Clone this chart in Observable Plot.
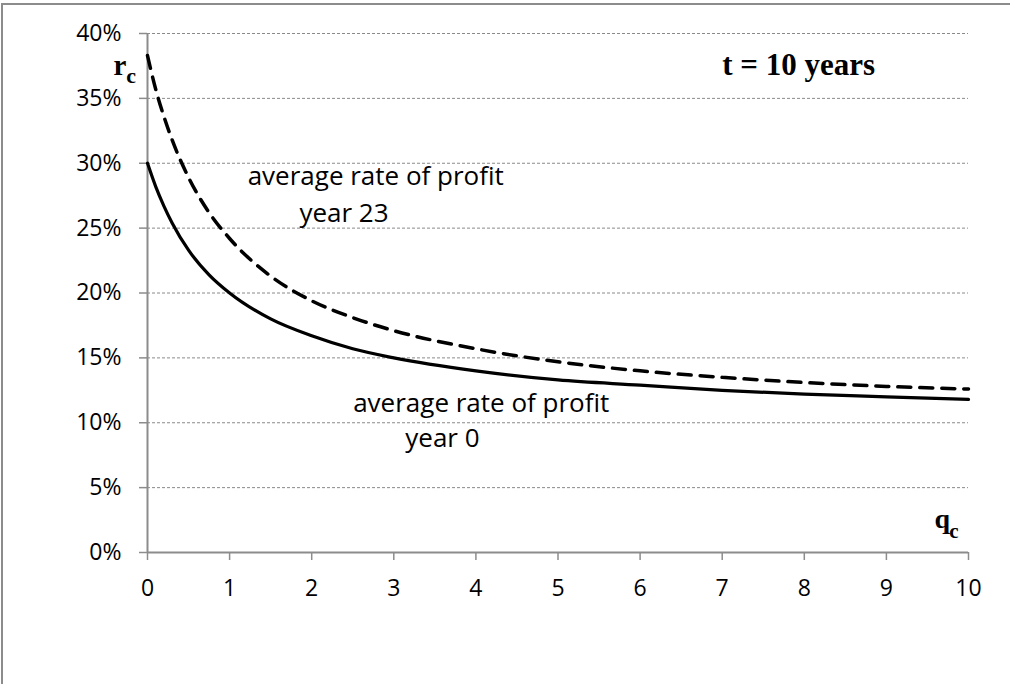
<!DOCTYPE html>
<html><head><meta charset="utf-8">
<script src="https://cdn.jsdelivr.net/npm/d3@7"></script>
<script src="https://cdn.jsdelivr.net/npm/@observablehq/plot@0.6"></script>
<style>
html,body{margin:0;padding:0;background:#fff;overflow:hidden;}
#wrap{position:relative;width:1010px;height:684px;overflow:hidden;}
#border{position:absolute;left:1px;top:3px;width:1100px;height:800px;border-left:2px solid #8c8c8c;border-top:2px solid #8c8c8c;pointer-events:none;}
#chart{position:absolute;left:0;top:0;}
</style></head><body>
<div id="wrap"><div id="chart"></div><div id="border"></div></div>
<script>
// q_c values sampled along the curves
const qValues = [0, 0.1, 0.2, 0.3, 0.5, 0.75, 1, 1.5, 2, 2.5, 3, 4, 5, 6, 7, 8, 9, 10];
// average rate of profit, year 0 (%)
const rateYear0 = [30.0, 28.2, 26.7, 25.4, 23.3, 21.4, 20.0, 18.0, 16.7, 15.7, 15.0, 14.0, 13.3, 12.9, 12.5, 12.2, 12.0, 11.8];
// average rate of profit, year 23 (%)
const rateYear23 = [38.3, 35.7, 33.6, 31.8, 28.9, 26.2, 24.2, 21.3, 19.4, 18.1, 17.1, 15.7, 14.7, 14.0, 13.5, 13.1, 12.8, 12.6];
const yTicks = [0, 5, 10, 15, 20, 25, 30, 35, 40];
const xTicks = [0, 1, 2, 3, 4, 5, 6, 7, 8, 9, 10];
// annotation texts and anchors (q, r)
const curveLabelText = ["average rate of profit", "year 23", "average rate of profit", "year 0"];
const curveLabelQ = [1.22, 1.85, 2.505, 3.14];
const curveLabelR = [28.3, 25.45, 10.8, 8.1];

const year0 = qValues.map((q, i) => ({q, r: rateYear0[i]}));
const year23 = qValues.map((q, i) => ({q, r: rateYear23[i]}));
const curveLabels = curveLabelText.map((t, i) => ({t, q: curveLabelQ[i], r: curveLabelR[i]}));

const gray = "#8c8c8c";
const chart = Plot.plot({
  width: 1010,
  height: 684,
  marginLeft: 147,
  marginRight: 42,
  marginTop: 33,
  marginBottom: 132,
  style: {fontFamily: "'Open Sans', sans-serif", fontSize: "23px", color: "#000", background: "transparent"},
  x: {domain: [0, 10], label: null},
  y: {domain: [0, 40], label: null},
  marks: [
    Plot.gridY(yTicks.filter(d => d > 0), {stroke: "#8a8a8a", strokeOpacity: 1, strokeWidth: 1, strokeDasharray: "3,2"}),
    Plot.axisY(yTicks, {tickSize: 8, tickPadding: 18, tickFormat: d => d + "%", stroke: gray, strokeWidth: 1.5, fill: "#000", fontSize: 23, label: null}),
    Plot.axisX(xTicks, {tickSize: 8, tickPadding: 19, stroke: gray, strokeWidth: 1.5, fill: "#000", fontSize: 23, label: null}),
    Plot.ruleX([0], {stroke: gray, strokeWidth: 2}),
    Plot.ruleY([0], {stroke: gray, strokeWidth: 2}),
    Plot.line(year0, {x: "q", y: "r", curve: "monotone-x", stroke: "#000", strokeWidth: 3.2}),
    Plot.line(year23, {x: "q", y: "r", curve: "monotone-x", stroke: "#000", strokeWidth: 3.5, strokeDasharray: "13,9"}),
    Plot.text(curveLabels, {x: "q", y: "r", text: "t", textAnchor: "start", lineAnchor: "bottom", fontSize: 26, fill: "#000"}),
    Plot.text(["t = 10 years"], {x: [7.0], y: [36.8], text: d => d, textAnchor: "start", lineAnchor: "bottom", fontFamily: "'Liberation Serif', serif", fontWeight: "bold", fontSize: 31, fill: "#000"}),
    Plot.text(["r"], {x: [-0.415], y: [36.8], text: d => d, textAnchor: "start", lineAnchor: "bottom", fontFamily: "'Liberation Serif', serif", fontWeight: "bold", fontSize: 29, fill: "#000"}),
    Plot.text(["c"], {x: [-0.26], y: [36.15], text: d => d, textAnchor: "start", lineAnchor: "bottom", fontFamily: "'Liberation Serif', serif", fontWeight: "bold", fontSize: 22, fill: "#000"}),
    Plot.text(["q"], {x: [9.585], y: [1.85], text: d => d, textAnchor: "start", lineAnchor: "bottom", fontFamily: "'Liberation Serif', serif", fontWeight: "bold", fontSize: 28, fill: "#000"}),
    Plot.text(["c"], {x: [9.765], y: [1.15], text: d => d, textAnchor: "start", lineAnchor: "bottom", fontFamily: "'Liberation Serif', serif", fontWeight: "bold", fontSize: 21, fill: "#000"})
  ]
});
document.getElementById("chart").appendChild(chart);
</script>
</body></html>
